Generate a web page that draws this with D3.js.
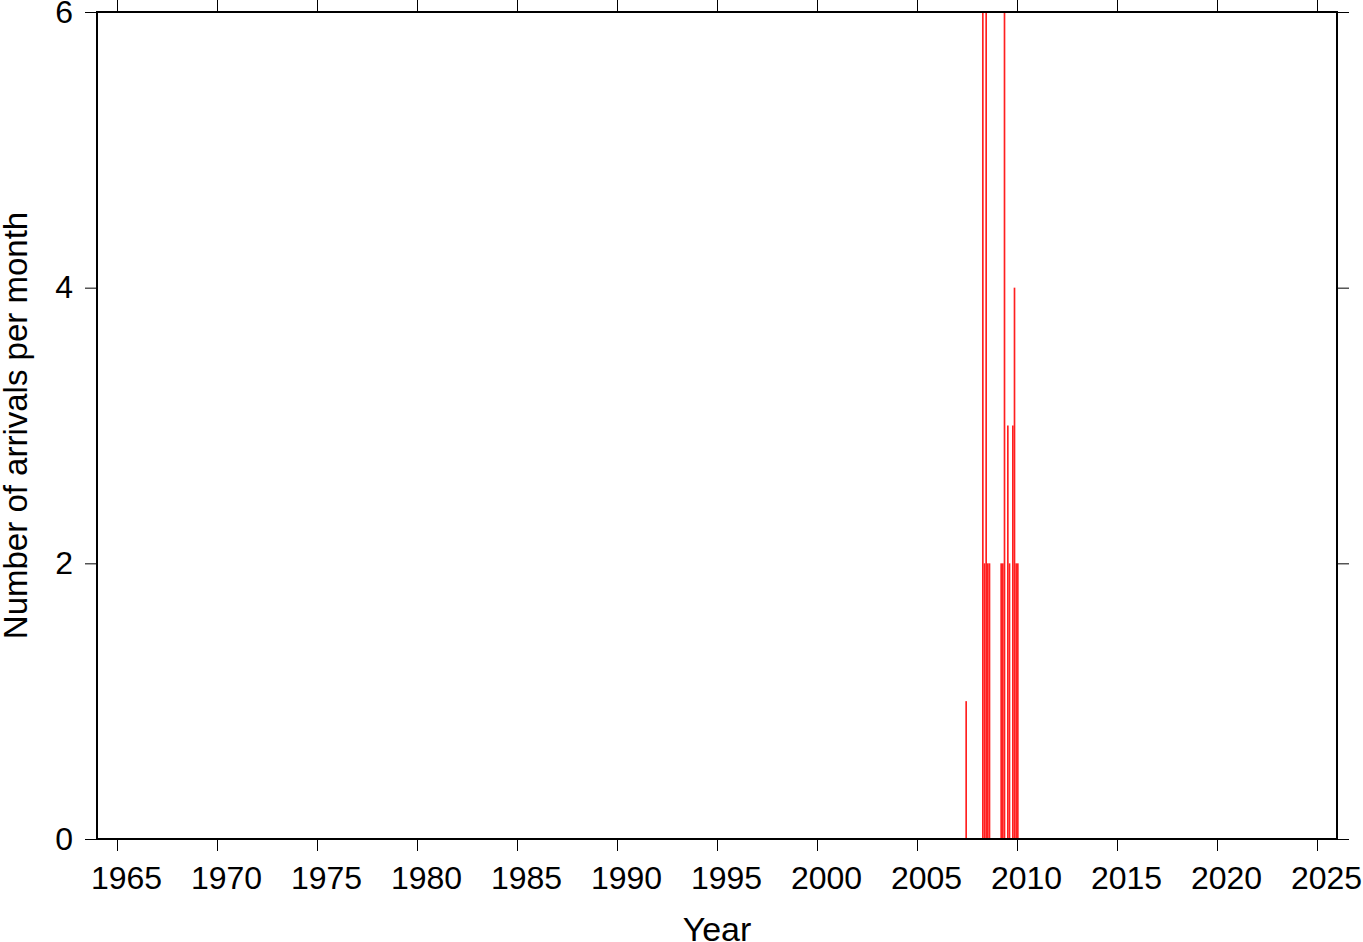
<!DOCTYPE html>
<html><head><meta charset="utf-8">
<script src="https://cdn.jsdelivr.net/npm/d3@7"></script>
<style>html,body{margin:0;padding:0;background:#fff;}svg{display:block;}</style>
</head><body>
<svg id="c" width="1363" height="942"></svg>
<script>
// Monthly arrival counts (year, month index 0-11, count)
const barYears  = [2007, 2008, 2008, 2008, 2008, 2008, 2009, 2009, 2009, 2009, 2009, 2009, 2009, 2009, 2010];
const barMonths = [5,    3,    4,    5,    6,    7,    2,    3,    4,    6,    7,    9,    10,   11,   0];
const barCounts = [1,    6,    2,    6,    2,    2,    2,    2,    6,    3,    2,    3,    4,    2,    2];
const xTicks = [1965, 1970, 1975, 1980, 1985, 1990, 1995, 2000, 2005, 2010, 2015, 2020, 2025];
const yTicks = [0, 2, 4, 6];
const xDomain = [1964, 2026];
const yDomain = [0, 6];

const svg = d3.select("#c");
const L = 97, R = 1337, T = 12, B = 839;
const x = d3.scaleLinear().domain(xDomain).range([L, R]);
const y = d3.scaleLinear().domain(yDomain).range([B, T]);
const font = "'Liberation Sans', Arial, Helvetica, sans-serif";

// bars
const bars = barYears.map((yr, i) => ({ t0: yr + barMonths[i] / 12, t1: yr + (barMonths[i] + 1) / 12, v: barCounts[i] }));
svg.append("g").selectAll("rect").data(bars).join("rect")
  .attr("x", d => x(d.t0)).attr("width", d => x(d.t1) - x(d.t0))
  .attr("y", d => y(d.v)).attr("height", d => y(0) - y(d.v))
  .attr("fill", "#ff2020");

// axes
const tickLen = 12;
const axB = d3.axisBottom(x).tickValues(xTicks).tickFormat(d3.format("d")).tickSize(tickLen).tickPadding(15);
const axT = d3.axisTop(x).tickValues(xTicks).tickFormat("").tickSize(tickLen);
const axL = d3.axisLeft(y).tickValues(yTicks).tickFormat(d3.format("d")).tickSize(tickLen).tickPadding(12);
const axR = d3.axisRight(y).tickValues(yTicks).tickFormat("").tickSize(tickLen);
function style(g) {
  g.select(".domain").remove();
  g.selectAll(".tick line").attr("stroke", "#000").attr("stroke-width", 1);
  g.selectAll(".tick text").attr("fill", "#000").style("font-family", font).style("font-size", "32px");
}
svg.append("g").attr("transform", `translate(0,${B})`).call(axB).call(style)
  .selectAll(".tick text").attr("dx", 9);
svg.append("g").attr("transform", `translate(0,${T})`).call(axT).call(style);
svg.append("g").attr("transform", `translate(${L},0)`).call(axL).call(style);
svg.append("g").attr("transform", `translate(${R},0)`).call(axR).call(style);

// frame
svg.append("rect").attr("x", L).attr("y", T).attr("width", R - L).attr("height", B - T)
  .attr("fill", "none").attr("stroke", "#000").attr("stroke-width", 2);

// labels
svg.append("text").attr("x", (L + R) / 2).attr("y", 941).attr("text-anchor", "middle")
  .style("font-family", font).style("font-size", "34px").text("Year");
svg.append("text").attr("transform", `translate(27,${(T + B) / 2}) rotate(-90)`).attr("text-anchor", "middle")
  .style("font-family", font).style("font-size", "33px").text("Number of arrivals per month");
</script>
</body></html>
